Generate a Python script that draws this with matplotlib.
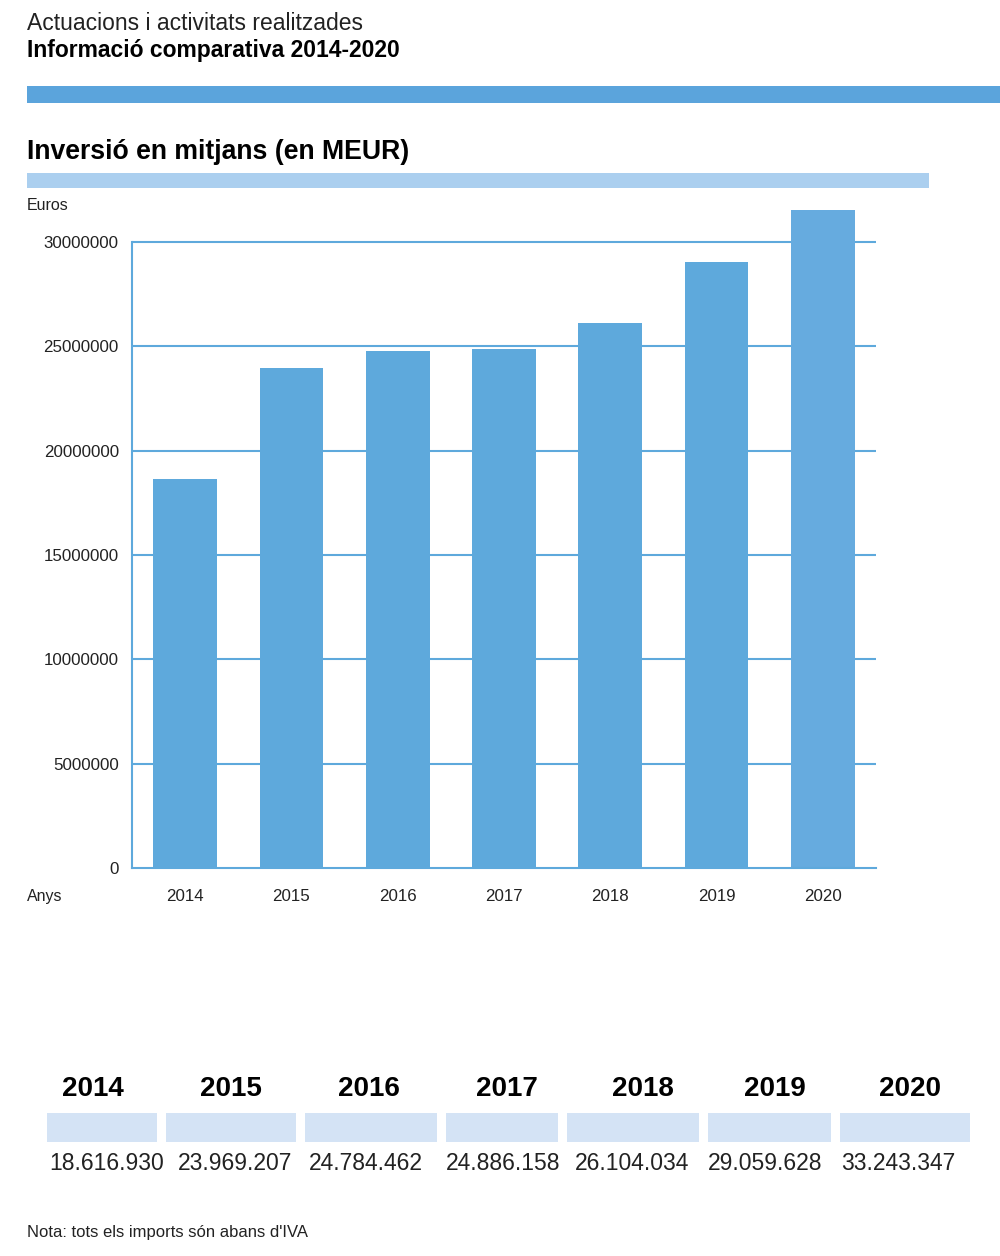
import matplotlib.pyplot as plt
from matplotlib.patches import Rectangle

plt.rcParams['font.family'] = ['Liberation Sans', 'DejaVu Sans']

years = ['2014', '2015', '2016', '2017', '2018', '2019', '2020']
inversio = [18616930, 23969207, 24784462, 24886158, 26104034, 29059628, 33243347]
y_ticks = [0, 5000000, 10000000, 15000000, 20000000, 25000000, 30000000]

W, H = 1000, 1256
BAR = '#5ea9dc'
LINE = '#5ea9dc'


def fx(px):
    return px / W


def fy(py):
    return 1 - py / H


def fmt_dots(v):
    return f'{v:,}'.replace(',', '.')


fig = plt.figure(figsize=(10, 12.56), dpi=100)

# header
fig.text(fx(27), fy(24), 'Actuacions i activitats realitzades', fontsize=16.5,
         va='center', ha='left', color='#222222')
fig.text(fx(27), fy(51), 'Informació comparativa 2014-2020', fontsize=16.5,
         fontweight='bold', va='center', ha='left')
fig.patches.append(Rectangle((fx(27), fy(103)), fx(1000 - 27), 17 / H,
                             transform=fig.transFigure, color='#5ba4dc', lw=0))
fig.text(fx(27), fy(152), 'Inversió en mitjans (en MEUR)', fontsize=19.2,
         fontweight='bold', va='center', ha='left')
fig.patches.append(Rectangle((fx(27), fy(188)), fx(929 - 27), 15 / H,
                             transform=fig.transFigure, color='#abcfef', lw=0))

# bar chart
ax = fig.add_axes([fx(132), fy(868), fx(876 - 132), (868 - 210) / H])
x = range(len(years))
ax.bar(x, inversio, width=0.6, color=BAR, zorder=2)
ax.set_xlim(-0.5, 6.5)
ax.set_ylim(0, 31530000)
for t in y_ticks[1:]:
    ax.axhline(t, color=LINE, lw=1.5, zorder=1)
ax.set_yticks(y_ticks)
ax.set_yticklabels([str(t) for t in y_ticks], fontsize=12.2, color='#222222')
ax.set_xticks(list(x))
ax.set_xticklabels(years, fontsize=12.2, color='#222222')
ax.tick_params(axis='y', length=0, pad=9.5)
ax.tick_params(axis='x', length=0, pad=15)
for s in ['top', 'right']:
    ax.spines[s].set_visible(False)
ax.spines['left'].set_bounds(0, 30000000)
ax.spines['left'].set_color(LINE)
ax.spines['left'].set_linewidth(1.5)
ax.spines['bottom'].set_color(LINE)
ax.spines['bottom'].set_linewidth(1.5)
ax.patches[-1].set_facecolor('#66abdf')

fig.text(fx(27), fy(205), 'Euros', fontsize=11.5, va='center', ha='left', color='#222222')
fig.text(fx(27), fy(896), 'Anys', fontsize=11.5, va='center', ha='left', color='#222222')

# table below
box_left = [47, 166, 305, 446, 567, 708, 840]
box_right = [157, 296, 437, 558, 699, 831, 970]
head_x = [93, 231, 369, 507, 643, 775, 910]
val_x = [49, 178, 309, 446, 575, 708, 841]
for i, yr in enumerate(years):
    fig.text(fx(head_x[i]), fy(1089), yr, fontsize=20, fontweight='bold',
             va='center', ha='center')
    fig.patches.append(Rectangle((fx(box_left[i]), fy(1142)),
                                 fx(box_right[i] - box_left[i]), 29 / H,
                                 transform=fig.transFigure, color='#d4e3f5', lw=0))
    fig.text(fx(val_x[i]), fy(1163), fmt_dots(inversio[i]), fontsize=16.5,
             va='center', ha='left', color='#222222')

fig.text(fx(27), fy(1232), "Nota: tots els imports són abans d'IVA", fontsize=12,
         va='center', ha='left', color='#222222')

plt.savefig('out.png', dpi=100)
